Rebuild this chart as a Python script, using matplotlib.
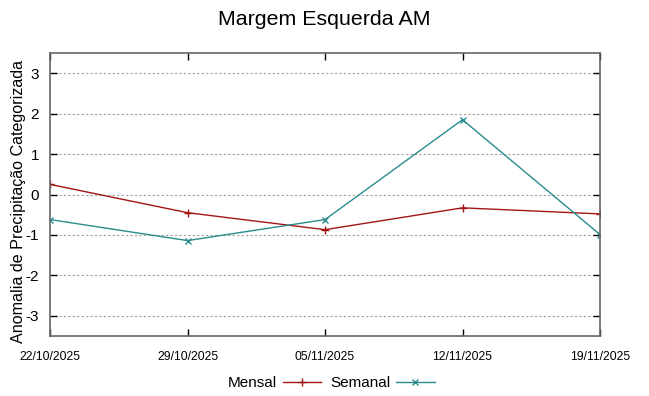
import matplotlib
matplotlib.use("Agg")
import matplotlib.pyplot as plt
import numpy as np

datas = ["22/10/2025", "29/10/2025", "05/11/2025", "12/11/2025", "19/11/2025"]
mensal = [0.25, -0.45, -0.87, -0.33, -0.48]
semanal = [-0.62, -1.14, -0.62, 1.85, -0.99]
y_ticks = [-3, -2, -1, 0, 1, 2, 3]

plt.rcParams['font.family'] = ['Liberation Sans', 'DejaVu Sans']

fig = plt.figure(figsize=(6.49, 3.96), dpi=100)
ax = fig.add_axes([50 / 649, 60 / 396, 550 / 649, 283 / 396])

x = np.arange(len(datas))
ax.plot(x, mensal, color='#a31515', linewidth=1.0, marker='+', markersize=6,
        markeredgewidth=1.0, label='Mensal')
ax.plot(x, semanal, color='#2a8c8c', linewidth=1.0, marker='x', markersize=4.5,
        markeredgewidth=1.0, label='Semanal')

ax.set_xlim(0, len(datas) - 1)
ax.set_ylim(-3.5, 3.5)
ax.set_xticks(x)
ax.set_xticklabels(datas, fontsize=8.7)
ax.set_yticks(y_ticks)
ax.set_yticklabels([str(v) for v in y_ticks], fontsize=11)
ax.yaxis.grid(True, linestyle=(0, (2, 2)), color='#a0a0a0', linewidth=0.8)
ax.tick_params(direction='in', length=5, width=1, color='black',
               top=True, right=True, pad=8)
ax.tick_params(axis='x', pad=11)
for s in ax.spines.values():
    s.set_color('#666666')
    s.set_linewidth(1.2)

ax.set_ylabel("Anomalia de Precipitação Categorizada", fontsize=11.6)
ax.yaxis.set_label_coords(-0.043, 0.475)
fig.suptitle("Margem Esquerda AM", fontsize=15.4, y=0.975)

fig.legend(loc='lower center', bbox_to_anchor=(0.51, -0.02), ncol=2,
           frameon=False, markerfirst=False, fontsize=11, handlelength=2.5,
           columnspacing=0.6, handletextpad=0.4)

fig.savefig("out.png", dpi=100)
